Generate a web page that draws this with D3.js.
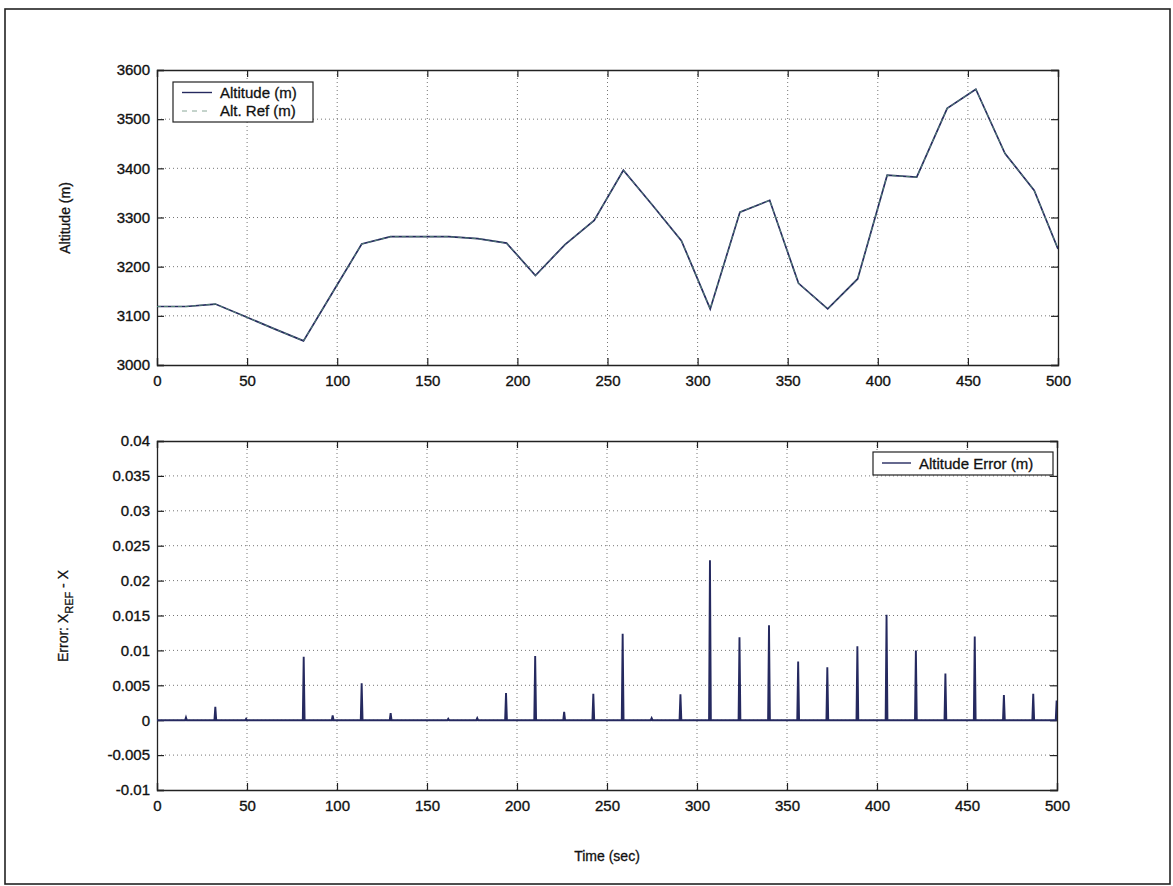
<!DOCTYPE html>
<html>
<head>
<meta charset="utf-8">
<script src="https://cdn.jsdelivr.net/npm/d3@7"></script>
<style>
  html, body { margin: 0; padding: 0; background: #fff; }
  svg { display: block; font-family: "Liberation Sans", Arial, sans-serif; }
</style>
</head>
<body>
<svg id="fig" width="1173" height="886"></svg>
<script>
// Altitude profile: waypoint times (s) and altitude (m)
const altTime  = [0, 16.1, 32.4, 48.6, 64.8, 81.3, 97.5, 113.6, 129.6, 145.8, 161.9, 178, 194, 210, 226.4, 242.6,
                  258.8, 275, 291, 307, 323.5, 340, 356, 372.2, 388.8, 405.2, 421.6, 438.5, 454.4, 470.6, 486.8, 500];
const altValue = [3119, 3119, 3124, 3099, 3074, 3049, 3148, 3246, 3261, 3261, 3261, 3257, 3248, 3182, 3245, 3294,
                  3396, 3325, 3253, 3114, 3311, 3335, 3166, 3114, 3175, 3386, 3382, 3522, 3561, 3430, 3355, 3236];
// Reference altitude (tracks the altitude closely)
const refValue = altValue.slice();

// Altitude error spikes at each waypoint transition
const spikeTimes = [16.1, 32.4, 49.5, 81.5, 97.6, 113.7, 129.8, 161.8, 177.9, 193.9, 210.1, 226.2, 242.4,
                    258.7, 274.8, 290.8, 307.2, 323.6, 340, 356.2, 372.4, 389.1, 405.3, 421.6, 438, 454.3,
                    470.5, 486.8, 499.8];
const spikePeaks = [0.0004, 0.0019, 0.0002, 0.0091, 0.0007, 0.0053, 0.001, 0.0002, 0.0003, 0.0039, 0.0092,
                    0.0012, 0.0038, 0.0124, 0.0003, 0.0037, 0.0229, 0.0119, 0.0136, 0.0084, 0.0076, 0.0106,
                    0.0151, 0.01, 0.0067, 0.012, 0.0036, 0.0038, 0.0028];

const xTicks    = [0, 50, 100, 150, 200, 250, 300, 350, 400, 450, 500];
const altTicks  = [3000, 3100, 3200, 3300, 3400, 3500, 3600];
const errTicks  = [-0.01, -0.005, 0, 0.005, 0.01, 0.015, 0.02, 0.025, 0.03, 0.035, 0.04];

const svg = d3.select("#fig");
const navy = "#25295f";
const ink = "#111";
const fs = 15;

// outer frame
svg.append("rect").attr("x", 5).attr("y", 9).attr("width", 1165).attr("height", 875)
  .attr("fill", "none").attr("stroke", "#222").attr("stroke-width", 1.6);

function panel(box, yDomain, yTicks, yFmt, clipId) {
  const x = d3.scaleLinear().domain([0, 500]).range([box.x0, box.x1]);
  const y = d3.scaleLinear().domain(yDomain).range([box.y1, box.y0]);
  const g = svg.append("g");

  // grid
  g.append("g").selectAll("line").data(xTicks.slice(1, -1)).join("line")
    .attr("x1", d => x(d)).attr("x2", d => x(d)).attr("y1", box.y0).attr("y2", box.y1)
    .attr("stroke", "#666").attr("stroke-width", 0.9).attr("stroke-dasharray", "1,3");
  g.append("g").selectAll("line").data(yTicks.slice(1, -1)).join("line")
    .attr("y1", d => y(d)).attr("y2", d => y(d)).attr("x1", box.x0).attr("x2", box.x1)
    .attr("stroke", "#666").attr("stroke-width", 0.9).attr("stroke-dasharray", "1,3");

  // axes with inward ticks on all four sides
  const tl = 7;
  g.append("g").attr("transform", `translate(0,${box.y1})`)
    .call(d3.axisBottom(x).tickValues(xTicks).tickSize(-tl).tickPadding(10).tickFormat(d => String(d)));
  g.append("g").attr("transform", `translate(0,${box.y0})`)
    .call(d3.axisTop(x).tickValues(xTicks).tickSize(-tl).tickFormat(""));
  g.append("g").attr("transform", `translate(${box.x0},0)`)
    .call(d3.axisLeft(y).tickValues(yTicks).tickSize(-tl).tickPadding(7).tickFormat(yFmt));
  g.append("g").attr("transform", `translate(${box.x1},0)`)
    .call(d3.axisRight(y).tickValues(yTicks).tickSize(-tl).tickFormat(""));
  g.selectAll(".domain").attr("stroke", "#222").attr("stroke-width", 1.3);
  g.selectAll(".tick line").attr("stroke", "#222").attr("stroke-width", 1.2);
  g.selectAll(".tick text").attr("font-size", fs).attr("fill", ink)
    .attr("stroke", ink).attr("stroke-width", 0.35)
    .attr("font-family", "'Liberation Sans', Arial, sans-serif");

  svg.append("clipPath").attr("id", clipId).append("rect")
    .attr("x", box.x0).attr("y", box.y0).attr("width", box.x1 - box.x0).attr("height", box.y1 - box.y0);
  return { x, y };
}

function label(sel) {
  return sel.attr("fill", ink).attr("stroke", ink).attr("stroke-width", 0.3);
}

// ---- Altitude panel ----
const altBox = { x0: 157, x1: 1058, y0: 70, y1: 365 };
const p1 = panel(altBox, [3000, 3600], altTicks, d => String(d), "clipTop");
const altLine = d3.line().x(d => p1.x(d[0])).y(d => p1.y(d[1]));
svg.append("path").datum(d3.zip(altTime, altValue)).attr("d", altLine)
  .attr("clip-path", "url(#clipTop)")
  .attr("fill", "none").attr("stroke", navy).attr("stroke-width", 1.7);
svg.append("path").datum(d3.zip(altTime, refValue)).attr("d", altLine)
  .attr("clip-path", "url(#clipTop)")
  .attr("fill", "none").attr("stroke", "#5e9a78").attr("stroke-width", 1).attr("stroke-dasharray", "4,3")
  .attr("opacity", 0.8);

// legend (altitude)
const lg1 = svg.append("g");
lg1.append("rect").attr("x", 173).attr("y", 82).attr("width", 140).attr("height", 40)
  .attr("fill", "#fff").attr("stroke", "#222").attr("stroke-width", 1.2);
lg1.append("line").attr("x1", 182).attr("x2", 212).attr("y1", 92.5).attr("y2", 92.5)
  .attr("stroke", navy).attr("stroke-width", 1.4);
lg1.append("line").attr("x1", 182).attr("x2", 212).attr("y1", 111).attr("y2", 111)
  .attr("stroke", "#8aa898").attr("stroke-width", 1).attr("stroke-dasharray", "5,5");
label(lg1.append("text").attr("x", 220).attr("y", 98).attr("font-size", fs)).text("Altitude (m)");
label(lg1.append("text").attr("x", 220).attr("y", 116).attr("font-size", fs)).text("Alt. Ref (m)");

label(svg.append("text").attr("transform", "translate(70,218) rotate(-90)").attr("text-anchor", "middle")
  .attr("font-size", fs - 1)).text("Altitude (m)");

// ---- Error panel ----
const errBox = { x0: 157, x1: 1057, y0: 441, y1: 790 };
const p2 = panel(errBox, [-0.01, 0.04], errTicks, d => String(+d.toFixed(3)), "clipBot");

const errPts = [[0, 0]];
spikeTimes.forEach((t, i) => {
  errPts.push([t - 0.5, 0], [t, spikePeaks[i]], [t + 0.5, 0]);
});
errPts.push([500, 0]);
svg.append("path").datum(errPts)
  .attr("d", d3.line().x(d => p2.x(d[0])).y(d => p2.y(d[1])))
  .attr("clip-path", "url(#clipBot)")
  .attr("fill", "none").attr("stroke", navy).attr("stroke-width", 1.9).attr("stroke-linejoin", "miter");

// legend (error)
const lg2 = svg.append("g");
lg2.append("rect").attr("x", 873).attr("y", 452).attr("width", 180).attr("height", 23)
  .attr("fill", "#fff").attr("stroke", "#222").attr("stroke-width", 1.2);
lg2.append("line").attr("x1", 882).attr("x2", 911).attr("y1", 463).attr("y2", 463)
  .attr("stroke", navy).attr("stroke-width", 1.4);
label(lg2.append("text").attr("x", 919).attr("y", 469).attr("font-size", fs))
  .text("Altitude Error (m)");

const eLab = label(svg.append("text").attr("transform", "translate(68,616) rotate(-90)").attr("text-anchor", "middle")
  .attr("font-size", fs - 1));
eLab.append("tspan").text("Error: X");
eLab.append("tspan").attr("font-size", fs - 4).attr("dy", 5).text("REF");
eLab.append("tspan").attr("dy", -5).text(" - X");

label(svg.append("text").attr("x", 607).attr("y", 861).attr("text-anchor", "middle")
  .attr("font-size", fs - 1)).text("Time (sec)");
</script>
</body>
</html>
